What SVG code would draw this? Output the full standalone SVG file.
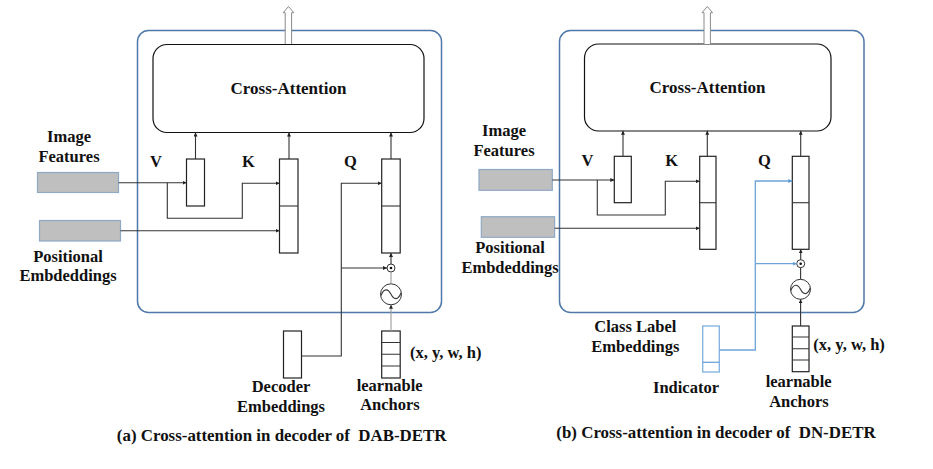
<svg xmlns="http://www.w3.org/2000/svg" width="933" height="469" viewBox="0 0 933 469">
<style>
.t{font-family:"Liberation Serif","Times New Roman",serif;font-weight:bold;font-size:16.5px;fill:#111;text-anchor:middle}
.ts{text-anchor:start}
.cap{font-size:16.9px}
.outer{fill:none;stroke:#4f79a8;stroke-width:1.5}
.ca{fill:#fff;stroke:#111;stroke-width:1.2}
.box{fill:#fff;stroke:#222;stroke-width:1.2}
.gray{fill:#bfbfbf;stroke:#8fa9c4;stroke-width:1.2}
.ln{fill:none;stroke:#333;stroke-width:1.1}
.lg{fill:none;stroke:#9a9a9a;stroke-width:1.1}
.lb{fill:none;stroke:#6fa3d8;stroke-width:1.3}
.bbox{fill:#fff;stroke:#7fb0e0;stroke-width:1.3}
.hollow{fill:#fff;stroke:#8a8a8a;stroke-width:1}
.circ{fill:#fff;stroke:#333;stroke-width:1}
</style>
<defs>
<marker id="ah" viewBox="0 0 6 6" refX="6" refY="3" markerWidth="4" markerHeight="4" orient="auto" markerUnits="userSpaceOnUse"><path d="M0,0 L6,3 L0,6 z" fill="#222"/></marker>
<marker id="ahb" viewBox="0 0 6 6" refX="6" refY="3" markerWidth="4" markerHeight="4" orient="auto" markerUnits="userSpaceOnUse"><path d="M0,0 L6,3 L0,6 z" fill="#5b9bd5"/></marker>
</defs>

<!-- Panel A -->
<g id="a-outer"><rect class="outer" x="137.5" y="30.5" width="304" height="282" rx="11"/></g>
<g id="a-cross-attention">
<rect class="ca" x="153" y="44.5" width="271" height="88" rx="14"/>
<text class="t" x="288.5" y="94" style="font-size:17px">Cross-Attention</text>
</g>
<g id="a-output"><path class="hollow" d="M285.2,44 V12.7 H283.2 L288.5,6.5 L293.8,12.7 H291.6 V44"/></g>
<g id="a-image-features">
<rect class="gray" x="37.5" y="172.5" width="81" height="20"/>
<text class="t" x="69" y="141.5">Image</text>
<text class="t" x="69" y="161.5">Features</text>
</g>
<g id="a-positional">
<rect class="gray" x="39.5" y="220.5" width="81" height="20.5"/>
<text class="t" x="68" y="261.5">Positional</text>
<text class="t" x="68" y="280.5">Embdeddings</text>
</g>
<g id="a-v"><rect class="box" x="186.5" y="159" width="18" height="47"/><text class="t" x="156" y="167">V</text></g>
<g id="a-k"><rect class="box" x="279.5" y="159" width="18.5" height="94"/><line class="ln" x1="279.5" y1="206" x2="298" y2="206"/><text class="t" x="248.5" y="167">K</text></g>
<g id="a-q"><rect class="box" x="381.7" y="159" width="18.5" height="94"/><line class="ln" x1="381.7" y1="206" x2="400.2" y2="206"/><text class="t" x="350.5" y="167">Q</text></g>
<g id="a-dot"><circle class="circ" cx="391" cy="268" r="4"/><circle cx="391" cy="268" r="1.3" fill="#111"/></g>
<g id="a-sine"><circle class="circ" cx="391" cy="294.3" r="10.5"/><path class="ln" d="M381,295.5 C384,288 388,288.5 391,294.3 C394,300 398,300.5 401,293"/></g>
<g id="a-anchors">
<rect class="box" x="381.7" y="331" width="18.5" height="47"/>
<path class="ln" d="M381.7,342.5 H400.2 M381.7,354.2 H400.2 M381.7,366 H400.2"/>
<text class="t ts" x="410" y="358">(x, y, w, h)</text>
<text class="t" x="389.7" y="390.5">learnable</text>
<text class="t" x="390" y="410">Anchors</text>
</g>
<g id="a-decoder">
<rect class="box" x="283.5" y="331" width="18" height="47"/>
<text class="t" x="281" y="392">Decoder</text>
<text class="t" x="281" y="411.5">Embeddings</text>
</g>
<g id="a-connectors">
<path class="ln" d="M118.7,182.7 H186.5" marker-end="url(#ah)"/>
<path class="ln" d="M167.3,182.7 V218.3 H242.3 V183.3 H279.5" marker-end="url(#ah)"/>
<path class="ln" d="M120.5,230.7 H279.5" marker-end="url(#ah)"/>
<path class="ln" d="M301.5,356 H341.3 V183.3 H381.7" marker-end="url(#ah)"/>
<path class="ln" d="M341.3,268 H387" marker-end="url(#ah)"/>
<path class="ln" d="M391,264 V253" marker-end="url(#ah)"/>
<path class="lg" d="M391,283.8 V272"/>
<path class="lg" d="M391,331 V304.8" marker-end="url(#ah)"/>
<path class="ln" d="M195.5,159 V132.5" marker-end="url(#ah)"/>
<path class="ln" d="M289,159 V132.5" marker-end="url(#ah)"/>
<path class="ln" d="M391,159 V132.5" marker-end="url(#ah)"/>
</g>
<g id="a-caption"><text class="t cap" x="281.7" y="440.5" xml:space="preserve">(a) Cross-attention in decoder of  DAB-DETR</text></g>

<!-- Panel B -->
<g id="b-outer"><rect class="outer" x="559.5" y="30.5" width="304.5" height="282" rx="11"/></g>
<g id="b-cross-attention">
<rect class="ca" x="584.5" y="44" width="246.5" height="87" rx="14"/>
<text class="t" x="707.5" y="93" style="font-size:17px">Cross-Attention</text>
</g>
<g id="b-output"><path class="hollow" d="M704,44 V12.7 H702 L707.3,6.5 L712.6,12.7 H710.4 V44"/></g>
<g id="b-image-features">
<rect class="gray" x="479" y="169.5" width="73.3" height="20.8"/>
<text class="t" x="504" y="136">Image</text>
<text class="t" x="504" y="155.5">Features</text>
</g>
<g id="b-positional">
<rect class="gray" x="481.3" y="216.7" width="73.3" height="20.6"/>
<text class="t" x="510" y="253.3">Positional</text>
<text class="t" x="510" y="272.5">Embdeddings</text>
</g>
<g id="b-v"><rect class="box" x="614.3" y="156.3" width="17" height="46.4"/><text class="t" x="587.5" y="165.7">V</text></g>
<g id="b-k"><rect class="box" x="699.7" y="156.3" width="16.3" height="93"/><line class="ln" x1="699.7" y1="202.7" x2="716" y2="202.7"/><text class="t" x="671.7" y="165.7">K</text></g>
<g id="b-q"><rect class="box" x="792.3" y="156.3" width="16.7" height="93"/><line class="ln" x1="792.3" y1="202.7" x2="809" y2="202.7"/><text class="t" x="764.3" y="165.7">Q</text></g>
<g id="b-dot"><circle class="circ" cx="800.7" cy="263.7" r="4"/><circle cx="800.7" cy="263.7" r="1.3" fill="#111"/></g>
<g id="b-sine"><circle class="circ" cx="800.5" cy="289.3" r="10"/><path class="ln" d="M790.8,290.5 C793.8,283.5 797.6,284 800.5,289.3 C803.4,295 807.2,295.5 810.2,288.3"/></g>
<g id="b-anchors">
<rect class="box" x="792.3" y="326" width="16.7" height="45.7"/>
<path class="ln" d="M792.3,337 H809 M792.3,348.7 H809 M792.3,360 H809"/>
<text class="t ts" x="813.3" y="350">(x, y, w, h)</text>
<text class="t" x="798.7" y="386.5">learnable</text>
<text class="t" x="799" y="406.5">Anchors</text>
</g>
<g id="b-indicator">
<rect class="bbox" x="702.7" y="326" width="16.6" height="46"/>
<line class="lb" x1="702.7" y1="362.3" x2="719.3" y2="362.3"/>
<text class="t" x="635.3" y="331.5">Class Label</text>
<text class="t" x="635.3" y="351.5">Embeddings</text>
<text class="t" x="686" y="393">Indicator</text>
</g>
<g id="b-connectors">
<path class="ln" d="M552.3,180 H614.3" marker-end="url(#ah)"/>
<path class="ln" d="M597.3,180 V215 H665.3 V181.3 H699.7" marker-end="url(#ah)"/>
<path class="ln" d="M554.7,228.3 H699.7" marker-end="url(#ah)"/>
<path class="lb" d="M719.3,350 H755.3 V181 H792.3" marker-end="url(#ahb)"/>
<path class="lb" d="M755.3,263.7 H796.7" marker-end="url(#ahb)"/>
<path class="ln" d="M800.7,259.7 V249.3" marker-end="url(#ah)"/>
<path class="ln" d="M800.6,279.3 V267.7"/>
<path class="ln" d="M800.6,326 V299.3" marker-end="url(#ah)"/>
<path class="ln" d="M623,156.3 V130.8" marker-end="url(#ah)"/>
<path class="ln" d="M707.3,156.3 V130.8" marker-end="url(#ah)"/>
<path class="ln" d="M800.7,156.3 V130.8" marker-end="url(#ah)"/>
</g>
<g id="b-caption"><text class="t cap" x="716" y="438.3" xml:space="preserve">(b) Cross-attention in decoder of  DN-DETR</text></g>
</svg>
